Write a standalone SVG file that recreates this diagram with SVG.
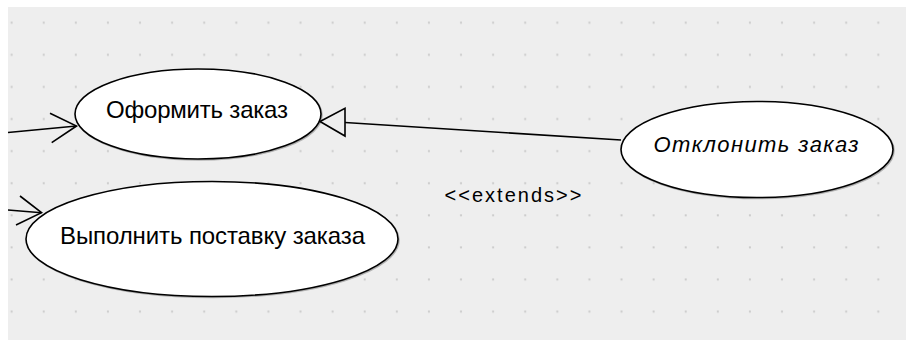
<svg xmlns="http://www.w3.org/2000/svg" width="906" height="340" viewBox="0 0 906 340">
  <defs>
    <pattern id="grid" x="0" y="0" width="32.1" height="32.1" patternUnits="userSpaceOnUse">
      <rect x="10.6" y="21.7" width="2" height="2" fill="#cbcbcb"/>
    </pattern>
    <style>
      .uc { fill: #ffffff; stroke: #000000; stroke-width: 1.6; }
      .shadow { fill: none; stroke: #b0b0b0; stroke-width: 1.6; }
      .lbl { font-family: "Liberation Sans", Arial, sans-serif; font-size: 24px; fill: #000000; text-anchor: middle; }
      .it { font-style: italic; font-size: 22px; }
      .stereo { font-family: "Liberation Sans", Arial, sans-serif; font-size: 20px; fill: #000000; text-anchor: middle; }
      .edge { fill: none; stroke: #000000; stroke-width: 1.6; }
      .hollow { fill: #eeeeee; stroke: #000000; stroke-width: 1.6; stroke-linejoin: miter; }
    </style>
  </defs>

  <!-- canvas with dotted grid -->
  <rect x="0" y="0" width="906" height="340" fill="#ffffff"/>
  <rect x="8" y="7" width="898" height="333" fill="#eeeeee"/>
  <rect x="8" y="7" width="898" height="333" fill="url(#grid)"/>

  <!-- use cases -->
  <g id="uc-oformit">
    <ellipse class="shadow" cx="199" cy="115" rx="123" ry="45"/>
    <ellipse class="uc" cx="198" cy="114" rx="123" ry="45"/>
    <text class="lbl" x="197" y="117.5" textLength="182" lengthAdjust="spacing">Оформить заказ</text>
  </g>

  <g id="uc-vypolnit">
    <ellipse class="shadow" cx="213" cy="240" rx="186" ry="57.5"/>
    <ellipse class="uc" cx="212" cy="239" rx="186" ry="57.5"/>
    <text class="lbl" x="212.5" y="243.5" textLength="305" lengthAdjust="spacing">Выполнить поставку заказа</text>
  </g>

  <g id="uc-otklonit">
    <ellipse class="shadow" cx="758" cy="150.5" rx="136" ry="48"/>
    <ellipse class="uc" cx="757" cy="149.5" rx="136" ry="48"/>
    <text class="lbl it" x="756" y="152" textLength="205" lengthAdjust="spacing">Отклонить заказ</text>
  </g>

  <!-- connectors -->
  <g id="connectors">
    <!-- association into "Оформить заказ" -->
    <path class="edge" d="M8,132.5 L76.5,126"/>
    <path class="edge" d="M50,113.3 L76.5,126 L51.7,142.7"/>

    <!-- association into "Выполнить поставку заказа" -->
    <path class="edge" d="M8,210 L41.5,212.7"/>
    <path class="edge" d="M20,196 L41.5,212.7 L16,225"/>

    <!-- extend relation with hollow triangle head -->
    <path class="edge" d="M621,140 L345,122.5"/>
    <polygon class="hollow" points="320,121.5 345,108.3 345,136"/>
    <text class="stereo" x="513" y="202" textLength="137" lengthAdjust="spacing">&lt;&lt;extends&gt;&gt;</text>
  </g>
</svg>
